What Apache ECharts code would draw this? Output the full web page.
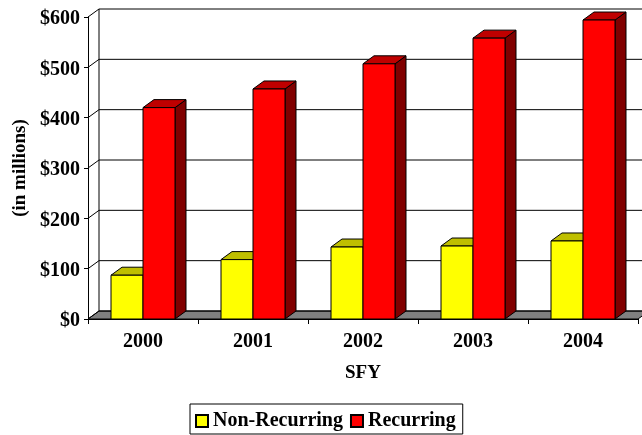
<!DOCTYPE html>
<html>
<head>
<meta charset="utf-8">
<style>html,body{margin:0;padding:0;background:#fff}#c{width:642px;height:435px}</style>
<script src="https://cdn.jsdelivr.net/npm/echarts@6/dist/echarts.min.js"></script>
</head>
<body>
<div id="c"></div>
<script>
// State fiscal years and spending, in millions of dollars
const years = ['2000', '2001', '2002', '2003', '2004'];
const nonRecurring = [87, 118, 143, 145, 155];
const recurring = [420, 457, 507, 558, 594];
const yTicks = [0, 100, 200, 300, 400, 500, 600];

// Pseudo-3D extrusion of the plot, in pixels
const DX = 11, DY = -8;
const BAR_SHARE = 32 / 110;
const serif = '"Liberation Serif", "Times New Roman", serif';

const poly = (points, fill, z2) => ({
  type: 'polygon',
  z2,
  shape: { points },
  style: { fill, stroke: '#000', lineWidth: 1 }
});

// One extruded bar: side and top faces behind the front face
function barRenderer(side, front, top, shade) {
  return (params, api) => {
    const [cx, y] = api.coord([api.value(0), api.value(1)]);
    const [, y0] = api.coord([api.value(0), 0]);
    const w = api.size([1, 0])[0] * BAR_SHARE;
    const x0 = side < 0 ? cx - w : cx;
    const x1 = x0 + w;
    return {
      type: 'group',
      children: [
        poly([[x1, y], [x1 + DX, y + DY], [x1 + DX, y0 + DY], [x1, y0]], shade, 1),
        poly([[x0, y], [x0 + DX, y + DY], [x1 + DX, y + DY], [x1, y]], top, 1),
        poly([[x0, y], [x1, y], [x1, y0], [x0, y0]], front, 2)
      ]
    };
  };
}

// Back wall: gridlines folded over the side wall, plus the gray floor
function wallRenderer(params, api) {
  const v = api.value(0);
  const left = api.coord([0, v]);
  const x0 = left[0] - api.size([1, 0])[0] / 2;
  const y = left[1];
  const x1 = x0 + api.size([1, 0])[0] * years.length;
  const line = (a, b, c, d) => ({
    type: 'line',
    shape: { x1: a, y1: b, x2: c, y2: d },
    style: { stroke: '#000', lineWidth: 1 }
  });
  const children = [
    line(x0, y, x0 + DX, y + DY),
    line(x0 + DX, y + DY, x1 + DX, y + DY)
  ];
  if (v === 0) {
    children.unshift(poly([[x0, y], [x0 + DX, y + DY], [x1 + DX, y + DY], [x1, y]], '#808080', 0));
    const [, yTop] = api.coord([0, yTicks[yTicks.length - 1]]);
    children.push(line(x0 + DX, y + DY, x0 + DX, yTop + DY));
  }
  return { type: 'group', children };
}

const chart = echarts.init(document.getElementById('c'), null, { renderer: 'canvas' });
chart.setOption({
  animation: false,
  backgroundColor: '#fff',
  textStyle: { fontFamily: serif },
  grid: { left: 88, top: 17, width: 550, height: 302, containLabel: false },
  legend: {
    data: ['Non-Recurring', 'Recurring'],
    left: 190,
    top: 404,
    orient: 'horizontal',
    icon: 'rect',
    itemWidth: 12,
    itemHeight: 12,
    itemGap: 7,
    padding: [6, 7, 2, 5],
    borderColor: '#000',
    borderWidth: 1,
    selectedMode: false,
    textStyle: { fontFamily: serif, fontWeight: 'bold', fontSize: 20, lineHeight: 20, color: '#000', padding: [2, 0, 0, 0] }
  },
  xAxis: {
    type: 'category',
    data: years,
    name: 'SFY',
    nameLocation: 'middle',
    nameGap: 45,
    nameTextStyle: { fontFamily: serif, fontWeight: 'bold', fontSize: 19, color: '#000' },
    axisLine: { show: true, lineStyle: { color: '#000', width: 1 } },
    axisTick: { show: true, length: 5, alignWithLabel: false, lineStyle: { color: '#000' } },
    axisLabel: { fontFamily: serif, fontWeight: 'bold', fontSize: 20, color: '#000', margin: 13 },
    splitLine: { show: false }
  },
  yAxis: {
    type: 'value',
    min: 0,
    max: 600,
    interval: 100,
    name: '(in millions)',
    nameLocation: 'middle',
    nameGap: 58,
    nameRotate: 90,
    nameTextStyle: { fontFamily: serif, fontWeight: 'bold', fontSize: 19, color: '#000' },
    axisLine: { show: true, lineStyle: { color: '#000', width: 1 } },
    axisTick: { show: true, length: 4, lineStyle: { color: '#000' } },
    // A thin top-aligned line box drops the digits slightly below the tick centre
    axisLabel: { fontFamily: serif, fontWeight: 'bold', fontSize: 20, color: '#000', margin: 8, verticalAlign: 'top', lineHeight: 4, formatter: '${value}' },
    splitLine: { show: false }
  },
  series: [
    {
      name: 'wall',
      type: 'custom',
      z: 1,
      silent: true,
      encode: { x: 1, y: 0 },
      data: yTicks.map(v => [v, 0]),
      renderItem: wallRenderer
    },
    {
      name: 'Non-Recurring',
      type: 'custom',
      z: 2,
      itemStyle: { color: '#ffff00', borderColor: '#000', borderWidth: 1 },
      encode: { x: 0, y: 1 },
      data: nonRecurring.map((v, i) => [i, v]),
      renderItem: barRenderer(-1, '#ffff00', '#bfbf00', '#808000')
    },
    {
      name: 'Recurring',
      type: 'custom',
      z: 3,
      itemStyle: { color: '#ff0000', borderColor: '#000', borderWidth: 1 },
      encode: { x: 0, y: 1 },
      data: recurring.map((v, i) => [i, v]),
      renderItem: barRenderer(1, '#ff0000', '#bf0000', '#800000')
    }
  ]
});
</script>
</body>
</html>
